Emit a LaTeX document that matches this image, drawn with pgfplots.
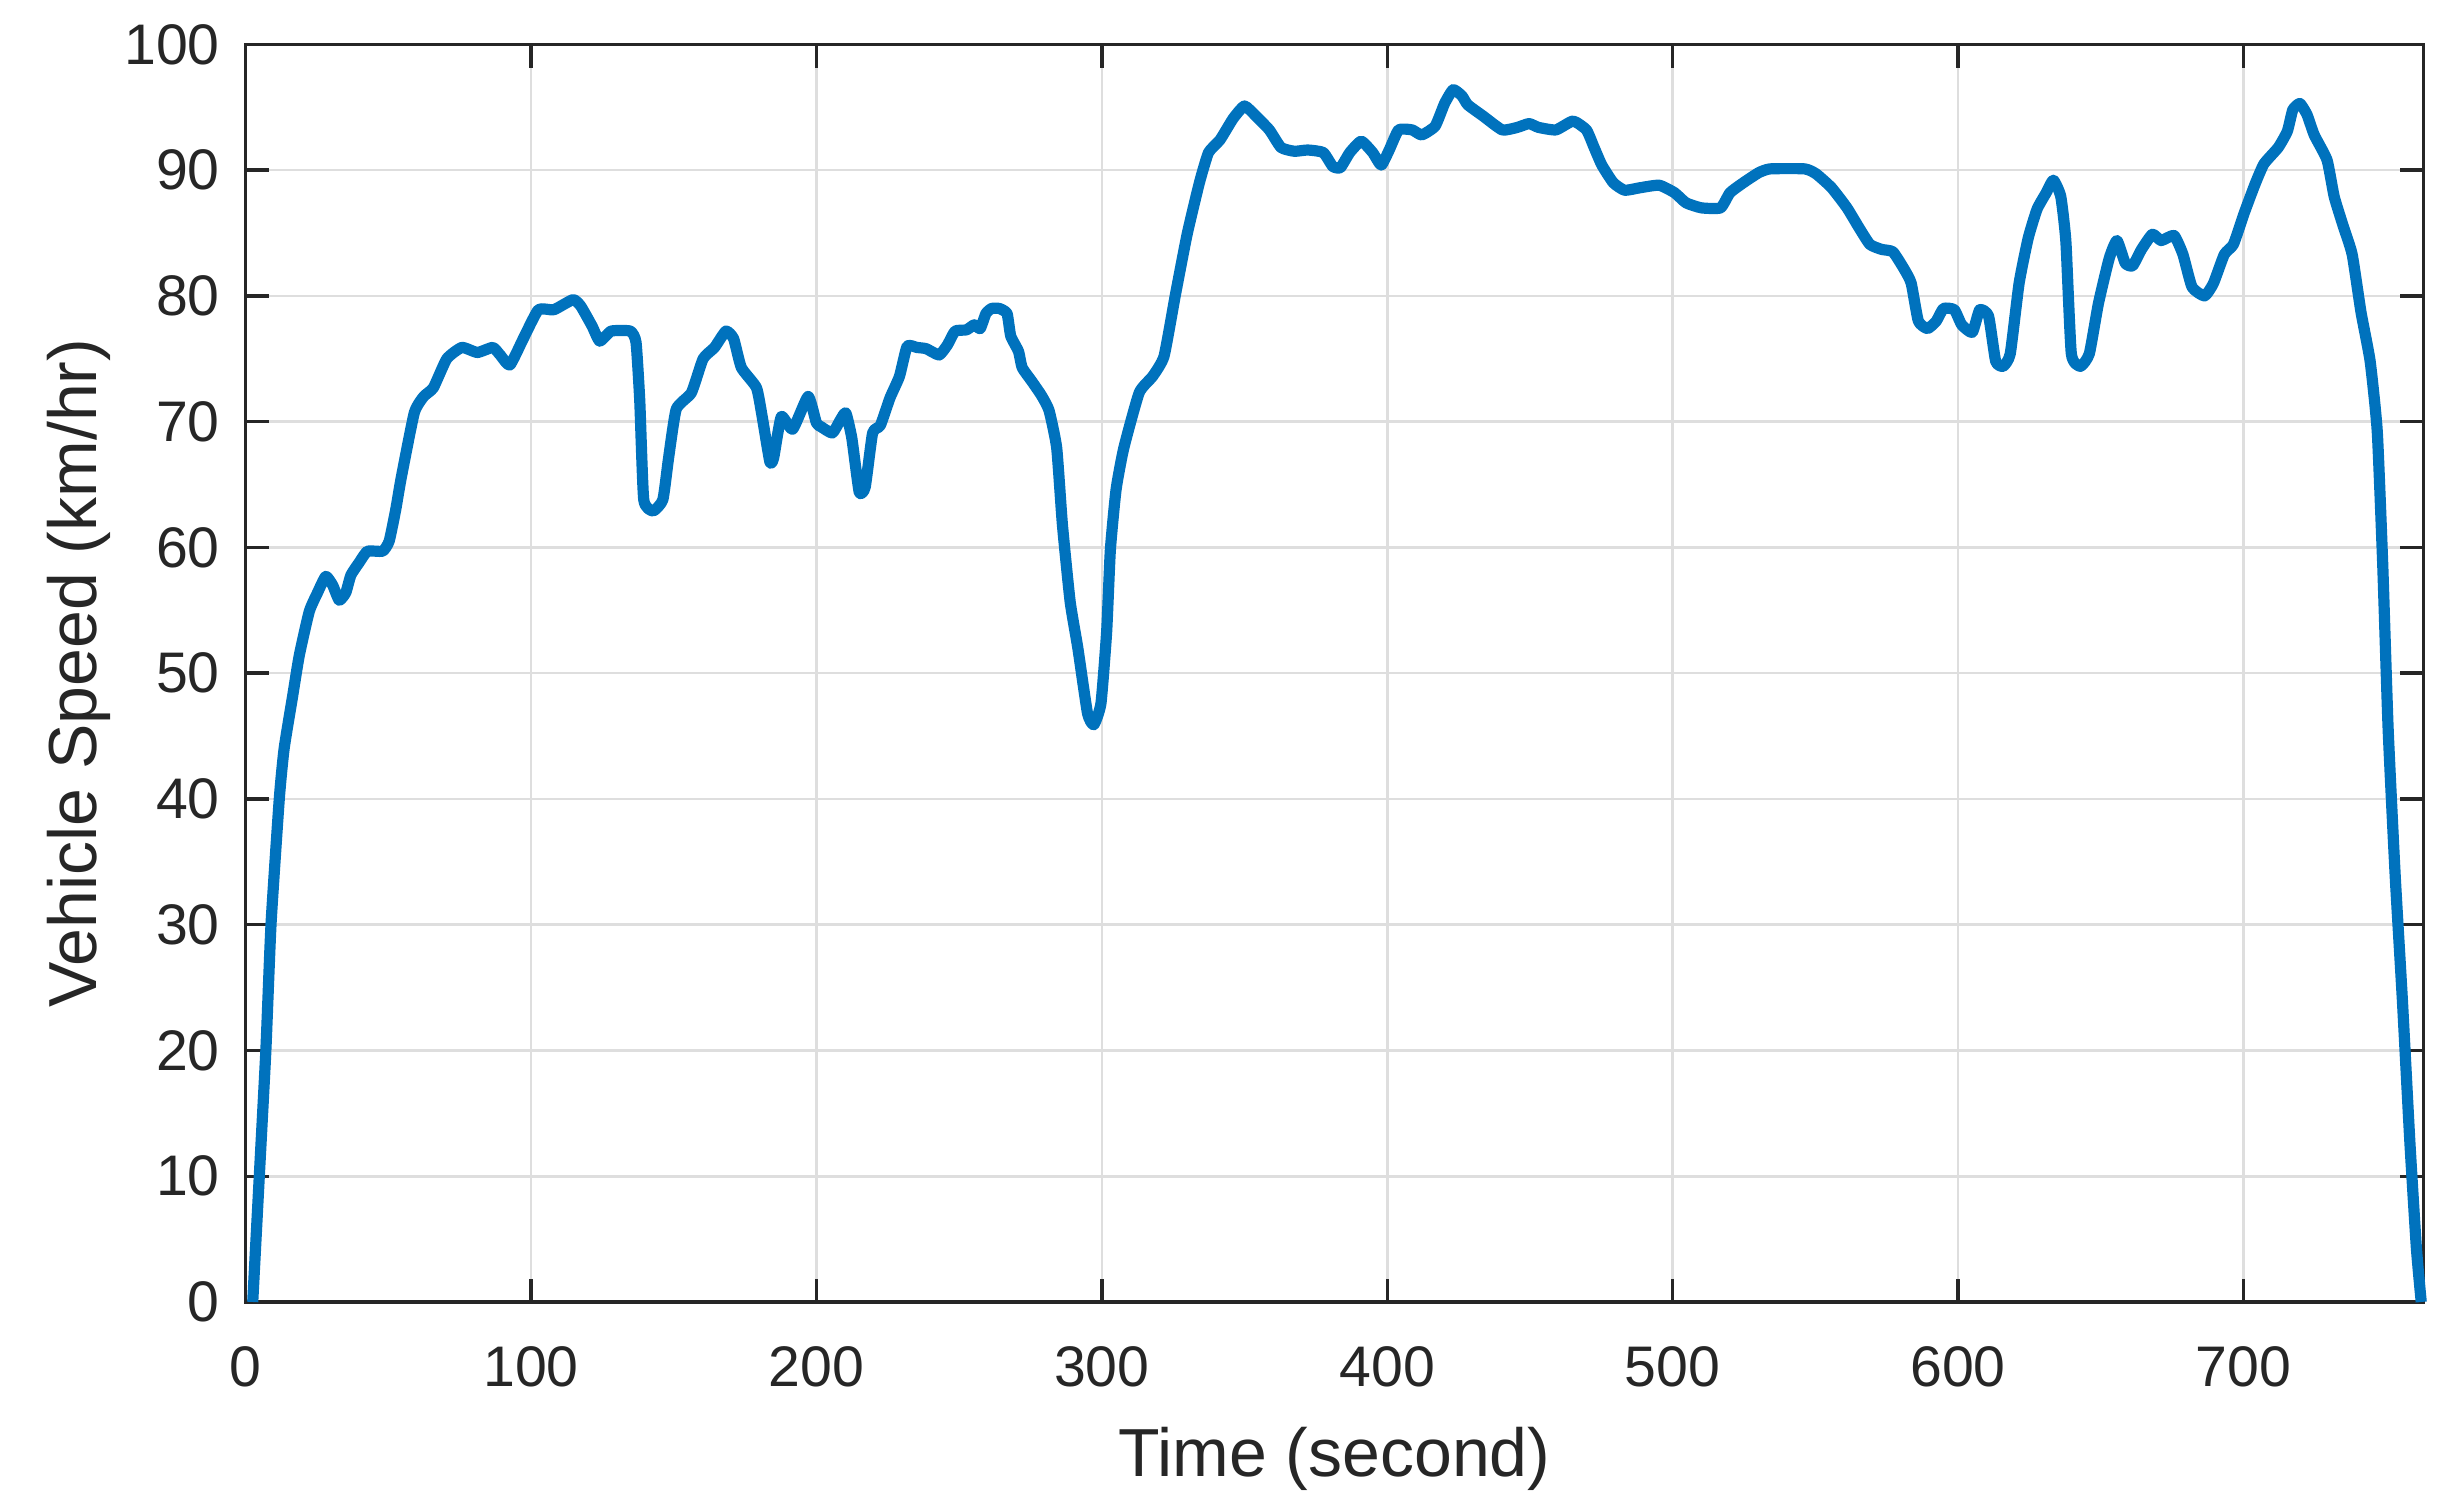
\documentclass[border=0pt]{standalone}
\usepackage{pgfplots}
\pgfplotsset{compat=1.18}
\usepackage{fontspec}
\setmainfont{Liberation Sans}
\definecolor{mblue}{RGB}{0,114,189}
\definecolor{axgray}{RGB}{38,38,38}
\definecolor{grdgray}{RGB}{222,222,222}
\begin{document}
\begin{tikzpicture}
\begin{axis}[
  scale only axis,
  width=544.4pt, height=314.4pt,
  xmin=0, xmax=763, ymin=0, ymax=100,
  xtick={0,100,...,700}, ytick={0,10,...,100},
  tick align=inside,
  major tick length=5.8pt,
  axis line style={axgray, line width=0.85pt},
  every tick/.style={axgray, line width=0.85pt},
  grid=major,
  major grid style={grdgray, line width=0.65pt},
  /pgf/number format/assume math mode=true,
  tick label style={font=\fontsize{14.3}{16}\selectfont, text=axgray},
  xticklabel style={anchor=base, yshift=-21.2pt},
  yticklabel style={anchor=east, inner sep=0pt, xshift=-6.25pt},
  label style={font=\fontsize{17}{20}\selectfont, text=axgray},
  xlabel={Time (second)},
  ylabel={Vehicle Speed (km/hr)},
  xlabel style={at={(axis description cs:0.5,-0.139)}, anchor=base},
  ylabel style={at={(axis description cs:-0.0685,0.5)}, anchor=base},
  clip=false,
]
\addplot[mblue, line width=2.8pt, line join=round, mark=none, smooth, tension=0.3] coordinates {
(2.5,0) (4.8,10) (7.1,20) (8.9,30) (11.8,40) (13.5,44) (16.5,48.2) (18.8,51.4)
(22.3,54.9) (25.2,56.4) (28.1,57.7) (30.5,57.0) (32.8,55.8) (35.1,56.4) (36.9,57.8)
(39.8,58.8) (42.7,59.7) (48,59.7) (50.3,60.5) (52.6,63) (54.5,65.5)
(59.1,70.7) (62.4,72.0) (65.8,72.7) (70.5,75.0) (75.8,75.9) (81.2,75.5) (86.6,75.9)
(89.2,75.3) (92.6,74.5) (97.3,76.6) (102.6,78.9) (108.0,78.9) (114.7,79.7) (117.4,79.2)
(121.4,77.6) (124.1,76.4) (128.1,77.2) (134.8,77.2) (136.8,76.3) (138.1,71.7) (139.5,63.8)
(142.8,62.9) (146.2,63.8) (148.2,67.1) (150.9,71.0) (156.2,72.3) (160.3,75.0) (164.3,75.9)
(168.3,77.2) (171.0,76.6) (173.7,74.3) (179.0,72.7) (181.0,70.4) (183.7,66.8) (185.0,67.1)
(187.7,70.4) (191.7,69.4) (197.1,72.0)
(200.0,69.9) (201.6,69.6) (205.6,69.1) (208.3,70.1) (210.3,70.7) (212.4,68.7) (215.0,64.4)
(217.1,64.8) (219.7,69.1) (222.4,69.7) (225.8,71.9) (229.1,73.6) (231.8,76.0) (235.2,75.9)
(238.5,75.8) (243.0,75.3) (245.9,76.1) (248.6,77.2) (252.6,77.3) (255.3,77.7) (257.4,77.4)
(259.4,78.6) (261.4,79.0) (264.1,79.0) (266.8,78.6) (268.1,76.8) (270.8,75.6) (272.1,74.3)
(275.5,73.2) (278.8,72.1) (281.5,70.9) (284.2,67.9) (286.2,61.8) (288.9,55.7) (291.6,52.0)
(295.0,46.8) (297.2,45.9) (299.7,47.6) (301.7,53.3) (303.0,59.8) (305.0,64.6) (307.7,67.9)
(313.1,72.3) (317.8,73.6) (321.8,75.2) (325.8,80.1) (329.9,84.9) (334.2,89.0) (337.4,91.4)
(341.4,92.4) (346.0,94.1) (350.0,95.1) (354.0,94.3) (358.7,93.2) (362.8,91.8) (367.5,91.5)
(372.2,91.6) (377.6,91.4) (380.9,90.3) (383.6,90.2) (386.9,91.4) (390.9,92.3) (394.9,91.4)
(397.9,90.4)
(400.7,91.6) (404.0,93.2) (408.7,93.2) (412.1,92.8) (416.8,93.5) (420.1,95.3) (423.1,96.4)
(426.2,95.9) (428.2,95.2) (433.6,94.3) (440.3,93.2) (445.6,93.4) (449.7,93.7) (453.0,93.4)
(459.1,93.2) (465.1,93.9) (469.8,93.2) (472.5,91.8) (475.2,90.4) (479.2,89.0) (483.2,88.4)
(488.6,88.6) (495.3,88.8) (500.7,88.2) (504.7,87.4) (510.1,87.0) (516.8,87.0) (520.1,88.2)
(524.8,89.0) (530.2,89.8) (534.2,90.1) (546.3,90.1) (550.3,89.7) (555.7,88.6) (561.1,87.0)
(565.1,85.5) (569.1,84.1) (573.2,83.7) (577.2,83.5) (581.2,82.1)
(583.6,81.0) (586.1,78.0) (589.3,77.4) (592.4,78.0) (594.9,79.0) (598.7,78.9) (601.3,77.7)
(605.0,77.1) (607.6,78.9) (610.7,78.4) (613.2,74.8) (615.8,74.4) (618.3,75.4) (621.4,81.0)
(624.6,84.6) (627.7,86.9) (630.9,88.2) (633.4,89.2) (636.0,87.9) (637.8,84.3) (639.7,75.4)
(642.9,74.4) (646.0,75.4) (649.2,79.4) (653.0,83.0) (655.7,84.4) (658.6,82.6) (661.2,82.4)
(664.3,83.7) (668.1,84.9) (671.2,84.4) (675.7,84.8) (678.8,83.3) (682.0,80.7) (686.4,80.0)
(689.5,81.0) (693.3,83.3) (696.5,84.1) (700.3,86.6) (704.1,88.9) (707.2,90.5) (712.2,91.8)
(715.4,93.1) (717.3,94.8) (719.8,95.3) (722.3,94.4) (724.8,92.8) (729.3,90.8) (731.8,87.9)
(734.9,85.6) (738.1,83.3) (741.2,78.7) (744.4,74.8) (746.9,69.2) (748.8,58.7) (750.7,45.6)
(753.2,33.8) (755.7,24.0) (758.3,12.8) (760.6,4.3) (762.3,0)
};
\end{axis}
\pgfresetboundingbox
\path[use as bounding box] ([shift={(-61.4pt,-51pt)}]current axis.south west) rectangle ([shift={(9.7pt,11.1pt)}]current axis.north east);
\end{tikzpicture}
\end{document}
